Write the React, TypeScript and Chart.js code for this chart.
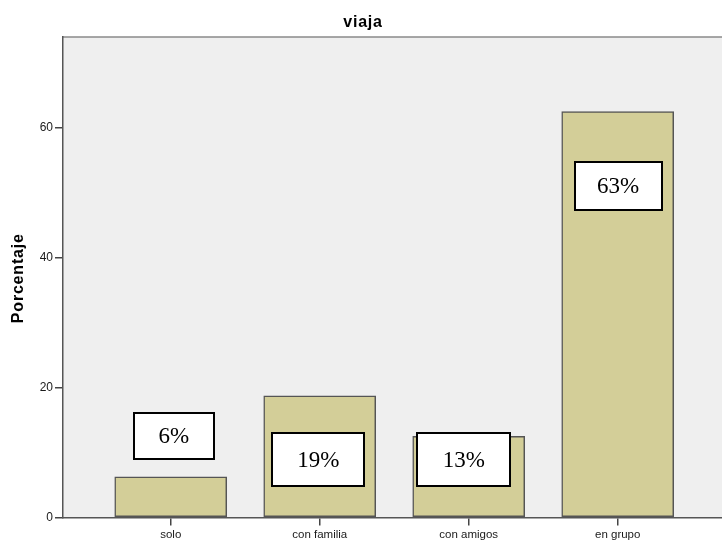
import React, { useEffect, useRef } from 'react';
import { Chart, registerables } from 'chart.js';

Chart.register(...registerables);

const chartTitle = 'viaja';
const yAxisTitle = 'Porcentaje';
const categories = ['solo', 'con familia', 'con amigos', 'en grupo'];
const percentages = [6.25, 18.75, 12.5, 62.5];
const barLabels = ['6%', '19%', '13%', '63%'];
const labelCenters = [12.5, 8.9, 8.9, 51.1];
const yTicks = [0, 20, 40, 60];

// label box appearance (offset from bar centre in px, and box size)
const labelBoxes = [
  { dx: 3, w: 80, h: 46 },
  { dx: -1.5, w: 92, h: 53 },
  { dx: -5, w: 93, h: 53 },
  { dx: 0.5, w: 87, h: 48 },
];

const SANS = '"Liberation Sans", Arial, sans-serif';

const decorPlugin = {
  id: 'spssDecor',
  beforeDraw(chart: any) {
    const { ctx, chartArea: a } = chart;
    ctx.save();
    ctx.fillStyle = '#efefef';
    ctx.fillRect(a.left, a.top, a.right - a.left, a.bottom - a.top);
    ctx.strokeStyle = '#8a8a8a';
    ctx.lineWidth = 1.5;
    ctx.beginPath();
    ctx.moveTo(a.left, a.top);
    ctx.lineTo(a.right, a.top);
    ctx.stroke();
    ctx.restore();
  },
  afterDatasetsDraw(chart: any) {
    const { ctx } = chart;
    const meta = chart.getDatasetMeta(0);
    const yScale = chart.scales.y;
    ctx.save();
    meta.data.forEach((bar: any, i: number) => {
      const box = labelBoxes[i];
      const cx = bar.x + box.dx;
      const cy = yScale.getPixelForValue(labelCenters[i]);
      const x0 = Math.round(cx - box.w / 2);
      const y0 = Math.round(cy - box.h / 2);
      ctx.fillStyle = '#ffffff';
      ctx.fillRect(x0, y0, box.w, box.h);
      ctx.strokeStyle = '#000000';
      ctx.lineWidth = 2;
      ctx.strokeRect(x0, y0, box.w, box.h);
      ctx.fillStyle = '#000000';
      ctx.font = '23px "Liberation Serif", "Times New Roman", serif';
      ctx.textAlign = 'center';
      ctx.textBaseline = 'middle';
      ctx.fillText(barLabels[i], cx, cy + 1);
    });
    ctx.restore();
  },
  afterDraw(chart: any) {
    const { ctx, chartArea: a } = chart;
    ctx.save();
    ctx.fillStyle = '#000000';
    ctx.font = 'bold 16px ' + SANS;
    (ctx as any).letterSpacing = '0.8px';
    ctx.textAlign = 'center';
    ctx.textBaseline = 'alphabetic';
    ctx.fillText(chartTitle, chart.width / 2 + 2, 27);
    ctx.translate(18.5, (a.top + a.bottom) / 2 + 1);
    ctx.rotate(-Math.PI / 2);
    ctx.textBaseline = 'middle';
    ctx.fillText(yAxisTitle, 0, 0);
    ctx.restore();
  },
};

export default function App() {
  const canvasRef = useRef<HTMLCanvasElement | null>(null);

  useEffect(() => {
    if (!canvasRef.current) return;
    const chart = new Chart(canvasRef.current, {
      type: 'bar',
      data: {
        datasets: [
          {
            data: percentages.map((v, i) => ({ x: i, y: v })) as any,
            backgroundColor: '#d3ce98',
            borderColor: '#555555',
            borderWidth: 1.5,
            borderSkipped: false,
            barThickness: 112,
          },
        ],
      },
      options: {
        animation: false,
        responsive: false,
        maintainAspectRatio: false,
        devicePixelRatio: 1,
        layout: { padding: { top: 37, left: 0, right: 0, bottom: 0 } },
        plugins: {
          legend: { display: false },
          title: { display: false },
          tooltip: { enabled: false },
        },
        scales: {
          x: {
            type: 'linear',
            offset: false,
            min: -0.723,
            max: 3.7,
            afterBuildTicks: (scale: any) => {
              scale.ticks = categories.map((_, i) => ({ value: i }));
            },
            afterFit: (scale: any) => {
              scale.height = 24.5;
            },
            grid: {
              offset: false,
              drawOnChartArea: false,
              drawTicks: true,
              tickLength: 8,
              color: '#444444',
              lineWidth: 1.5,
            },
            border: { display: true, color: '#555555', width: 1.5 },
            ticks: {
              padding: 2,
              color: '#1a1a1a',
              font: { family: SANS, size: 11.5 },
              maxRotation: 0,
              autoSkip: false,
              callback: (v: any) => categories[v as number] ?? '',
            },
          },
          y: {
            type: 'linear',
            min: 0,
            max: 74,
            afterBuildTicks: (scale: any) => {
              scale.ticks = yTicks.map((v) => ({ value: v }));
            },
            afterFit: (scale: any) => {
              scale.width = 63;
            },
            grid: {
              drawOnChartArea: false,
              drawTicks: true,
              tickLength: 8,
              color: '#444444',
              lineWidth: 1.5,
            },
            border: { display: true, color: '#555555', width: 1.5 },
            ticks: {
              padding: 2,
              color: '#1a1a1a',
              font: { family: SANS, size: 12 },
            },
          },
        },
      } as any,
      plugins: [decorPlugin],
    });
    return () => chart.destroy();
  }, []);

  return (
    <div style={{ position: 'absolute', left: 0, top: 0, width: 722, height: 542 }}>
      <canvas ref={canvasRef} width={722} height={542} style={{ display: 'block' }} />
    </div>
  );
}
